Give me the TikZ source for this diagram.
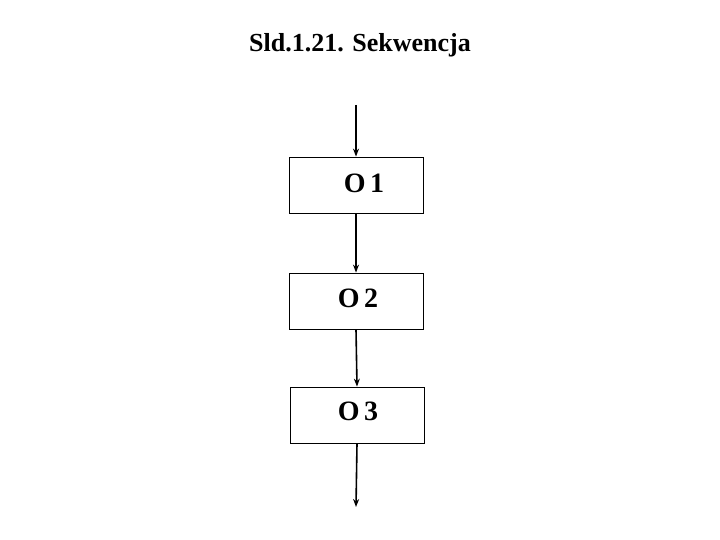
\documentclass[tikz,border=0pt]{standalone}
\usepackage{fontspec}
\setmainfont{Liberation Serif}
\usetikzlibrary{arrows.meta}
\begin{document}
\begin{tikzpicture}[x=1pt,y=-1pt,
  box/.style={draw,line width=0.8pt,minimum width=134pt,minimum height=56pt,inner sep=0pt},
  lab/.style={font=\fontsize{28}{30}\selectfont\bfseries},
  arr/.style={line width=1.6pt,-{Stealth[length=8pt,width=6pt]}}]
\useasboundingbox (0,0) rectangle (720,540);
\node[font=\fontsize{26}{30}\selectfont\bfseries] (title) at (360,45) {Sld.1.21. Sekwencja};
\node[box] (o1) at (356,185) {};
\node[box] (o2) at (356,301) {};
\node[box] (o3) at (357,415) {};
\node[lab] (t1) at (364,183) {O\,1};
\node[lab] (t2) at (358,298) {O\,2};
\node[lab] (t3) at (358,411) {O\,3};
\coordinate (in) at (356,105);
\coordinate (out) at (356,507);
\draw[arr] (in) -- (o1.north);
\draw[arr] (o1.south) -- (o2.north);
\draw[arr] (o2.south) -- (o3.north);
\draw[arr] (o3.south) -- (out);
\end{tikzpicture}
\end{document}
